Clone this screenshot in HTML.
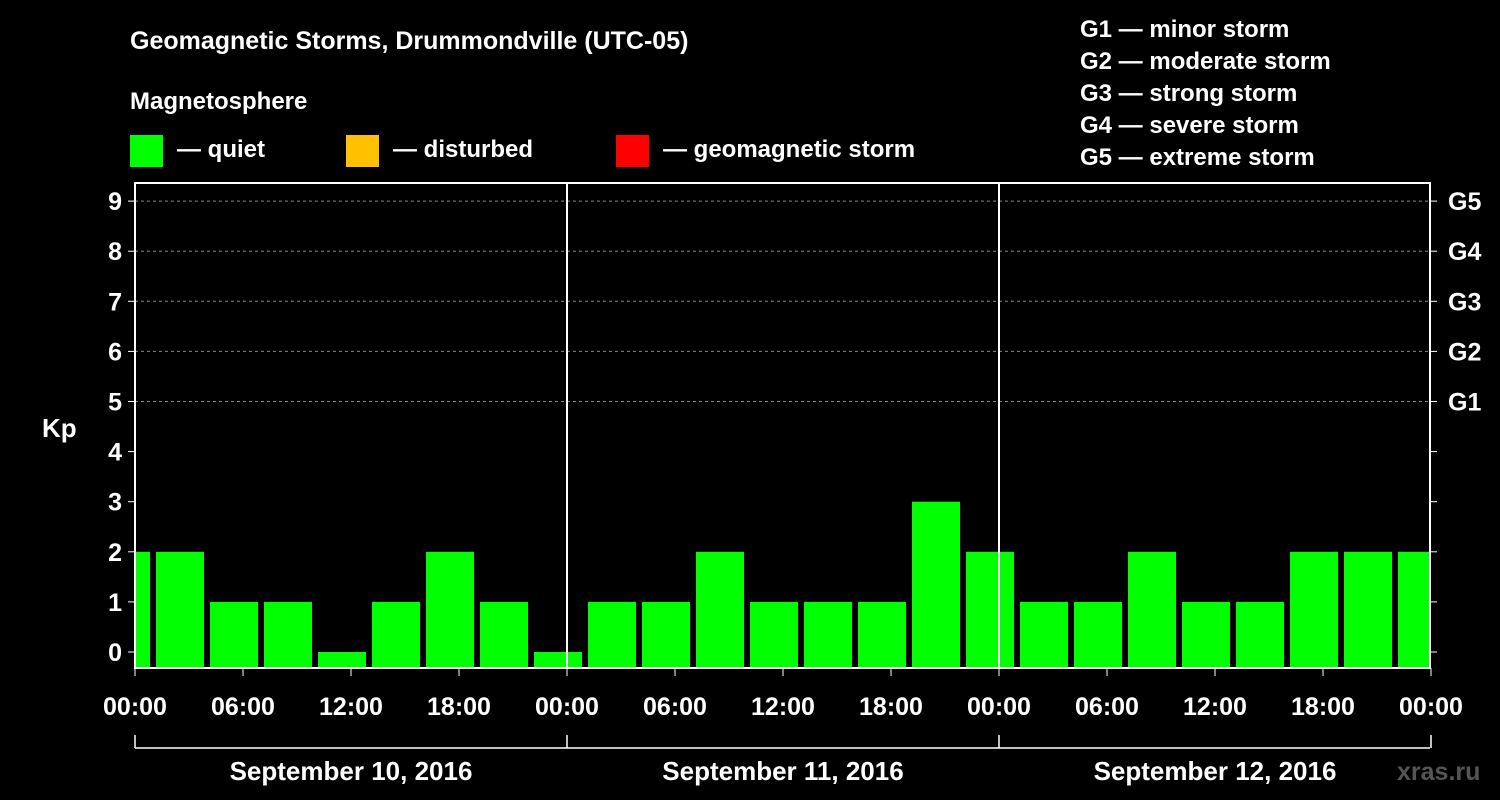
<!DOCTYPE html>
<html><head><meta charset="utf-8"><style>
body{margin:0;background:#000;}
svg{display:block;font-family:"Liberation Sans",Arial,sans-serif;font-weight:bold;}
</style></head><body>
<svg id="chart" width="1500" height="800" viewBox="0 0 1500 800">
<rect width="1500" height="800" fill="#000"/>
<text x="130" y="49" fill="#fff" font-size="25">Geomagnetic Storms, Drummondville (UTC-05)</text>
<text x="130" y="109" fill="#fff" font-size="24">Magnetosphere</text>
<g><rect x="130" y="135" width="33" height="32" fill="#00ff00"/><text x="177" y="157" fill="#fff" font-size="24">— quiet</text></g>
<g><rect x="346" y="135" width="33" height="32" fill="#ffc000"/><text x="393" y="157" fill="#fff" font-size="24">— disturbed</text></g>
<g><rect x="616" y="135" width="33" height="32" fill="#ff0000"/><text x="663" y="157" fill="#fff" font-size="24">— geomagnetic storm</text></g>
<g fill="#fff" font-size="24">
<text x="1080" y="37">G1 — minor storm</text><text x="1080" y="69">G2 — moderate storm</text><text x="1080" y="101">G3 — strong storm</text><text x="1080" y="133">G4 — severe storm</text><text x="1080" y="165">G5 — extreme storm</text>
</g>
<text x="42" y="437" fill="#fff" font-size="26">Kp</text>
<text x="1397" y="780" fill="#555" font-size="25">xras.ru</text>
<g id="plot"></g>
</svg>
<script>
const kpValues=[2,2,1,1,0,1,2,1,0,1,1,2,1,1,1,3,2,1,1,2,1,1,2,2,2];
const binStartHours=[-2,1,4,7,10,13,16,19,22,25,28,31,34,37,40,43,46,49,52,55,58,61,64,67,70];
const yTicks=[0,1,2,3,4,5,6,7,8,9];
const gLabels=["G1","G2","G3","G4","G5"];
const xTickLabels=["00:00","06:00","12:00","18:00","00:00","06:00","12:00","18:00","00:00","06:00","12:00","18:00","00:00"];
const dayLabels=["September 10, 2016","September 11, 2016","September 12, 2016"];
const NS="http://www.w3.org/2000/svg";
const L=135,R=1430,T=183,B=668;
const x=h=>L+h*18;
const y=k=>652-50.1*k;
const g=document.getElementById('plot');
function mk(t,a){const e=document.createElementNS(NS,t);for(const k in a)e.setAttribute(k,a[k]);g.appendChild(e);return e;}
const cp=mk('clipPath',{id:'cp'});
const cr=document.createElementNS(NS,'rect');cr.setAttribute('x',L);cr.setAttribute('y',T);cr.setAttribute('width',R-L);cr.setAttribute('height',B-T);cp.appendChild(cr);
for(let k=5;k<=9;k++){const l=mk('line',{x1:L,x2:R,y1:y(k),y2:y(k),stroke:'#888','stroke-dasharray':'3,3','stroke-width':1});

}
kpValues.forEach((v,i)=>{const h=binStartHours[i];
const r=mk('rect',{x:x(h)+3,y:y(v),width:48,height:B-y(v),fill:'#00ff00','clip-path':'url(#cp)'});

});
[1,2].forEach(d=>{const l=mk('line',{x1:x(d*24),x2:x(d*24),y1:T,y2:B,stroke:'#fff','stroke-width':2});

});
const fr=mk('rect',{x:L,y:T,width:R-L,height:B-T,fill:'none',stroke:'#fff','stroke-width':2});


yTicks.forEach(k=>{mk('line',{x1:L-7,x2:L,y1:y(k),y2:y(k),stroke:'#fff','stroke-width':1});
mk('line',{x1:R,x2:R+7,y1:y(k),y2:y(k),stroke:'#fff','stroke-width':1});
const t=mk('text',{x:L-13,y:y(k)+9,fill:'#fff','font-size':25,'text-anchor':'end'});t.textContent=k;

});
gLabels.forEach((s,i)=>{const t=mk('text',{x:R+18,y:y(5+i)+9,fill:'#fff','font-size':25});t.textContent=s;

});
xTickLabels.forEach((s,i)=>{const xx=x(i*6);mk('line',{x1:xx,x2:xx,y1:B,y2:B+8,stroke:'#fff','stroke-width':1});
const t=mk('text',{x:xx,y:715,fill:'#fff','font-size':25,'text-anchor':'middle'});t.textContent=s;

});
mk('line',{x1:L,x2:R,y1:748,y2:748,stroke:'#fff','stroke-width':1.5});
[0,1,2,3].forEach(d=>mk('line',{x1:x(d*24),x2:x(d*24),y1:735,y2:748,stroke:'#fff','stroke-width':1.5}));
dayLabels.forEach((s,i)=>{const t=mk('text',{x:x(i*24+12),y:780,fill:'#fff','font-size':26,'text-anchor':'middle'});t.textContent=s;

});
</script>
</body></html>
